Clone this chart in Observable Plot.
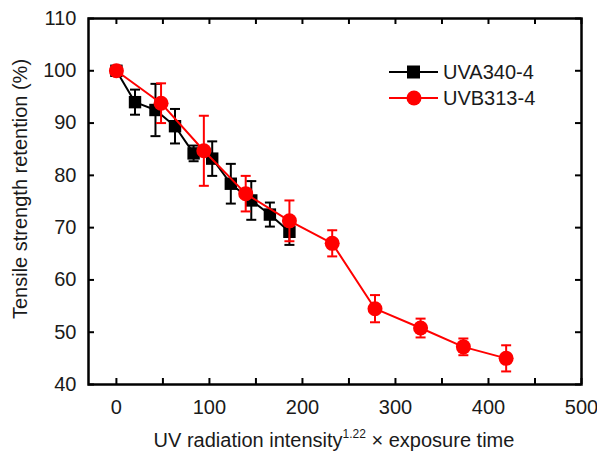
<!DOCTYPE html>
<html><head><meta charset="utf-8">
<script src="https://cdn.jsdelivr.net/npm/d3@7"></script>
<script src="https://cdn.jsdelivr.net/npm/@observablehq/plot@0.6"></script>
<style>
body{margin:0;background:#fff}
#chart{position:relative;width:597px;height:453px}
</style>
</head><body><div id="chart"></div>
<script>
// Data
const uvaX   = [0, 20, 42, 63, 83, 103, 123, 145, 165, 186];
const uvaY   = [100, 94.0, 92.5, 89.4, 84.2, 83.2, 78.4, 75.2, 72.5, 69.2];
const uvaErr = [0.5, 2.4, 5.0, 3.3, 1.5, 3.3, 3.8, 3.7, 2.3, 2.5];
const uvbX   = [0, 48, 94, 139, 186, 232, 278, 327, 373, 419];
const uvbY   = [100, 93.8, 84.7, 76.5, 71.3, 67.0, 54.5, 50.8, 47.2, 45.0];
const uvbErr = [0.5, 3.8, 6.7, 3.4, 3.9, 2.5, 2.6, 1.8, 1.6, 2.5];
const seriesNames = ["UVA340-4", "UVB313-4"];
const xTicks = [0, 100, 200, 300, 400, 500];
const xMinorTicks = [0, 50, 100, 150, 200, 250, 300, 350, 400, 450, 500];
const yTicks = [40, 50, 60, 70, 80, 90, 100, 110];

const W = 597, H = 453;
const mL = 88, mR = 16, mT = 18, mB = 69;
const innerW = W - mL - mR, innerH = H - mT - mB;
const TICK = 6;
const FS = 20;

const uva = uvaX.map((x, i) => ({x, y: uvaY[i], lo: uvaY[i] - uvaErr[i], hi: uvaY[i] + uvaErr[i]}));
const uvb = uvbX.map((x, i) => ({x, y: uvbY[i], lo: uvbY[i] - uvbErr[i], hi: uvbY[i] + uvbErr[i]}));

const capSymbol = {
  draw(ctx, size) {
    const r = Math.sqrt(size / Math.PI);
    ctx.moveTo(-r, 0); ctx.lineTo(r, 0);
  }
};

function errMarks(data, color) {
  return [
    Plot.ruleX(data, {x: "x", y1: "lo", y2: "hi", stroke: color, strokeWidth: 2}),
    Plot.dot(data, {x: "x", y: "lo", symbol: capSymbol, r: 5, stroke: color, strokeWidth: 2, fill: "none"}),
    Plot.dot(data, {x: "x", y: "hi", symbol: capSymbol, r: 5, stroke: color, strokeWidth: 2, fill: "none"})
  ];
}

const plot = Plot.plot({
  width: W, height: H,
  marginLeft: mL, marginRight: mR, marginTop: mT, marginBottom: mB,
  style: {fontFamily: "'Liberation Sans', Arial, sans-serif", fontSize: FS + "px", color: "#1a1a1a", background: "#fff", overflow: "visible"},
  x: {domain: [-30, 500]},
  y: {domain: [40, 110]},
  marks: [
    // inward ticks on all four sides
    Plot.tickX(xMinorTicks, {x: d => d, insetTop: innerH - TICK, stroke: "#000", strokeWidth: 2}),
    Plot.tickX(xMinorTicks, {x: d => d, insetBottom: innerH - TICK, stroke: "#000", strokeWidth: 2}),
    Plot.tickY(yTicks, {y: d => d, insetRight: innerW - TICK, stroke: "#000", strokeWidth: 2}),
    Plot.tickY(yTicks, {y: d => d, insetLeft: innerW - TICK, stroke: "#000", strokeWidth: 2}),
    Plot.axisX({ticks: xTicks, tickSize: 0, tickPadding: 15, label: null, tickFormat: d => d}),
    Plot.axisY({ticks: yTicks, tickSize: 0, tickPadding: 12, label: null, tickFormat: d => d}),
    // UVA340-4
    Plot.line(uva, {x: "x", y: "y", stroke: "#000", strokeWidth: 2}),
    ...errMarks(uva, "#000"),
    Plot.dot(uva, {x: "x", y: "y", symbol: "square", r: 7, fill: "#000"}),
    // UVB313-4
    Plot.line(uvb, {x: "x", y: "y", stroke: "#ff0000", strokeWidth: 2}),
    ...errMarks(uvb, "#ff0000"),
    Plot.dot(uvb, {x: "x", y: "y", symbol: "circle", r: 7.5, fill: "#ff0000"}),
    Plot.frame({stroke: "#000", strokeWidth: 2.5})
  ]
});

document.getElementById("chart").appendChild(plot);
const svg = d3.select(plot);
const font = "'Liberation Sans', Arial, sans-serif";

// x axis title with superscript
const xt = svg.append("text")
  .attr("x", 334).attr("y", 447)
  .attr("text-anchor", "middle")
  .attr("font-family", font).attr("font-size", FS).attr("fill", "#1a1a1a");
xt.append("tspan").text("UV radiation intensity");
xt.append("tspan").attr("font-size", 12).attr("dy", -9).text("1.22");
xt.append("tspan").attr("dy", 9).text(" \u00d7 exposure time");

// y axis title
svg.append("text")
  .attr("transform", "translate(27,189) rotate(-90)")
  .attr("text-anchor", "middle")
  .attr("font-family", font).attr("font-size", FS).attr("fill", "#1a1a1a")
  .text("Tensile strength retention (%)");

// legend
const lg = svg.append("g").attr("font-family", font).attr("font-size", FS).attr("fill", "#1a1a1a");
const legendRows = [
  {name: seriesNames[0], color: "#000", sym: "square", y: 72},
  {name: seriesNames[1], color: "#ff0000", sym: "circle", y: 98}
];
legendRows.forEach(r => {
  lg.append("line").attr("x1", 389).attr("x2", 438).attr("y1", r.y).attr("y2", r.y)
    .attr("stroke", r.color).attr("stroke-width", 2);
  if (r.sym === "square") {
    lg.append("rect").attr("x", 407).attr("y", r.y - 6.5).attr("width", 13).attr("height", 13).attr("fill", r.color);
  } else {
    lg.append("circle").attr("cx", 414).attr("cy", r.y).attr("r", 7.5).attr("fill", r.color);
  }
  lg.append("text").attr("x", 443).attr("y", r.y).attr("dy", "0.36em").attr("text-anchor", "start").text(r.name);
});
</script>
</body></html>
